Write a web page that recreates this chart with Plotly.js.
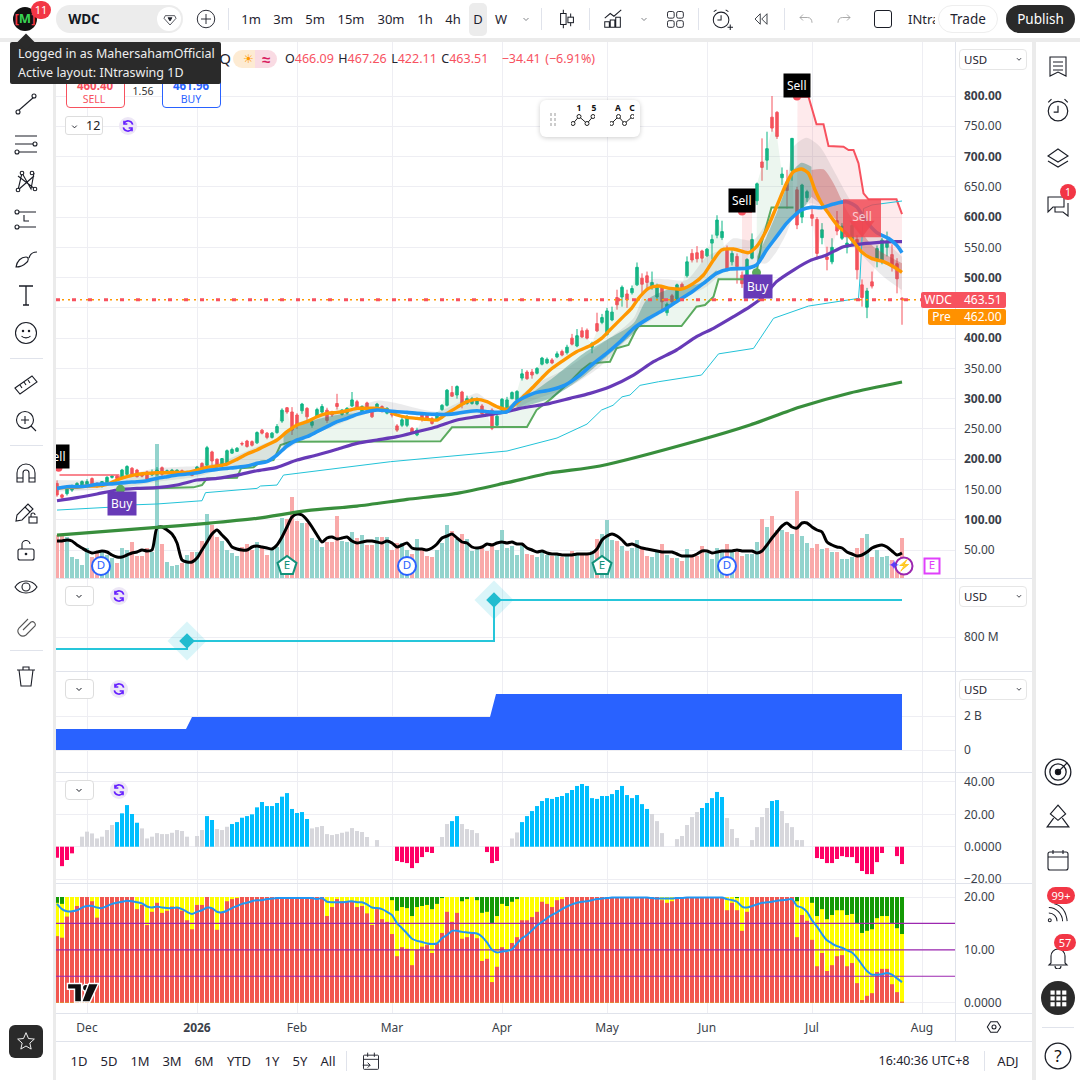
<!DOCTYPE html>
<html><head><meta charset="utf-8">
<script src="https://cdn.plot.ly/plotly-3.0.1.min.js"></script>
<style>
html,body{margin:0;padding:0;background:#fff;width:1080px;height:1080px;overflow:hidden;font-family:'Noto Sans',sans-serif}
#chart{position:absolute;left:0;top:0;width:1080px;height:1080px}
#ui{position:absolute;left:0;top:0;width:1080px;height:1080px;pointer-events:none}
#ui div,#ui svg{position:absolute}
</style></head><body>
<div id="chart"></div><div id="ui"></div>
<script>
// ---------- candles (daily, index 0 = late Nov 2025) ----------
const open=[160,141,143,149,155,157,158,168,160,155,
161,170,172,168,175,185,182,176,179,174,
175,186,178,179,179,181,176,176,177,193,
190,212,200,189,193,210,213,226,230,229,
227,248,243,236,244,263,285,278,273,280,
284,256,270,278,281,278,292,274,276,288,
295,278,293,282,281,287,276,275,255,256,
256,251,240,273,273,267,266,282,289,310,
306,311,292,292,291,288,276,281,256,281,
281,300,298,334,344,344,342,357,359,364,
369,378,376,400,387,412,413,385,424,426,
406,430,467,468,473,475,488,499,503,484,
468,485,442,470,460,489,503,540,541,544,
536,557,570,566,546,526,535,504,499,532,
627,691,694,765,773,665,658,677,645,600,
632,604,596,566,534,526,594,565,550,562,
563,488,451,493,529,526,550,538,523,466.09];
const high=[165,143,157,158,162,165,167,170,162,164,
172,173,174,184,190,187,184,178,181,183,
187,188,183,184,183,183,181,178,189,195,
222,214,201,202,216,219,220,229,232,231,
246,250,245,245,258,284,286,286,276,293,
286,265,285,291,285,280,308,283,286,311,
298,289,295,284,293,289,286,277,258,271,
273,253,252,275,276,270,277,291,316,321,
322,313,305,303,302,291,278,284,274,301,
303,312,314,349,347,349,352,369,368,367,
378,381,389,407,415,418,416,394,442,440,
450,452,480,487,480,487,525,507,510,510,
490,487,459,473,490,492,535,547,552,546,
549,571,603,594,553,545,540,510,532,573,
657,730,741,800,775,682,678,730,650,655,
645,615,600,590,551,565,610,590,570,590,
570,497,483,510,553,566,576,555,532,467.26];
const low=[138,133,140,146,153,155,156,155,153,153,
160,168,166,167,173,173,170,170,165,172,
172,170,176,178,177,177,175,172,175,183,
186,190,183,187,191,209,212,222,219,221,
225,241,233,234,242,260,275,240,250,275,
262,252,268,276,260,270,282,272,274,286,
282,276,279,268,279,277,274,269,245,253,
253,243,238,262,265,257,264,280,287,303,
300,284,290,290,289,272,273,248,255,279,
279,299,296,330,331,333,340,355,357,357,
367,370,373,388,385,400,398,375,410,423,
404,428,447,452,450,472,486,470,480,480,
465,445,437,457,458,480,500,525,525,525,
534,530,565,562,510,520,490,483,485,530,
620,660,678,741,729,653,614,660,580,590,
625,585,530,555,512,522,570,562,540,555,
497,452,433,482,517,522,535,510,474,422.11];
const close=[141,137,155,155,160,163,163,157,155,163,
170,172,168,182,188,175,171,172,167,178,
182,175,181,182,182,178,179,173,187,186,
219,197,188,201,214,216,218,225,221,223,
244,243,236,243,254,281,278,248,257,291,
270,262,282,287,264,273,287,281,284,298,
285,287,281,270,291,280,284,273,248,265,
269,245,248,266,268,259,276,289,314,304,
320,292,300,300,298,275,275,251,271,299,
298,310,312,341,333,339,350,367,365,359,
374,372,385,390,404,402,400,391,412,434,
445,443,455,484,463,482,517,489,492,492,
484,460,456,460,488,484,526,529,531,532,
547,563,595,576,513,540,518,490,530,563,
655,682,713,747,733,671,644,730,587,653,
642,598,540,579,530,550,577,585,557,586,
513,467,478,486,548,562,560,518,498,463.51];
// ---------- volume and its average ----------
const volume=[4.3,4.3,4.1,2.1,1.9,1.3,3.0,2.1,2.6,2.6,
2.3,2.0,1.5,3.0,2.8,3.6,2.2,2.2,3.0,2.6,
13.4,3.4,1.6,1.2,1.3,1.5,2.3,2.6,2.6,3.7,
6.4,5.3,4.1,3.7,2.8,2.5,2.2,3.1,3.4,2.8,
3.6,3.0,2.3,3.0,3.1,6.0,5.9,8.1,5.7,5.5,
5.5,4.0,3.8,3.1,3.6,3.6,6.2,3.7,3.6,4.6,
4.0,4.3,3.3,3.3,4.1,4.1,4.1,2.8,3.5,3.5,
2.8,2.4,3.9,3.0,2.2,2.1,2.8,3.5,5.3,4.7,
3.9,4.4,3.9,2.7,2.9,3.1,2.7,3.5,2.8,4.8,
3.0,3.2,2.3,3.3,2.4,2.3,2.1,2.6,2.3,2.2,
2.3,2.1,2.3,2.7,2.5,2.5,2.3,2.7,3.9,4.4,
5.8,3.8,3.7,3.2,2.7,3.0,3.8,3.0,2.2,2.1,
2.6,3.4,2.3,2.0,2.0,1.7,2.9,2.1,2.2,3.2,
2.5,1.9,3.0,2.8,3.4,2.6,2.6,2.2,2.4,2.4,
3.6,5.9,5.1,6.2,4.8,4.8,4.6,4.4,8.7,4.2,
3.5,3.0,3.4,2.9,3.0,2.6,2.6,1.9,1.9,2.1,
3.0,4.0,4.4,2.1,2.8,2.1,2.2,1.8,1.5,4.0];
const volumeAvg=[3.7,3.7,3.8,3.7,3.3,3.0,2.7,2.5,2.6,2.7,
2.6,2.3,2.1,2.1,2.3,2.5,2.6,2.8,2.7,2.8,
5.0,5.1,4.8,4.4,3.5,1.8,1.6,1.6,2.0,2.8,
3.6,4.4,4.8,4.3,3.8,3.1,2.9,2.8,2.8,3.1,
3.2,3.1,3.0,2.9,3.3,4.1,5.1,6.1,6.4,6.3,
5.8,5.1,4.3,3.6,4.0,4.1,3.9,4.0,4.1,3.7,
3.5,3.6,3.7,3.7,3.6,3.5,3.7,3.5,3.1,3.3,
3.5,3.0,2.9,2.9,2.8,3.0,3.4,4.0,4.2,4.4,
4.0,3.6,3.5,3.1,3.0,3.1,3.4,3.3,3.5,3.6,
3.5,3.6,3.4,3.4,3.0,2.8,2.6,2.7,2.5,2.4,
2.4,2.3,2.3,2.3,2.4,2.4,2.4,2.5,2.9,3.8,
4.2,4.4,4.2,3.8,3.3,3.4,3.2,3.0,2.9,2.8,
2.7,2.6,2.6,2.6,2.4,2.2,2.2,2.2,2.4,2.7,
2.7,2.5,2.6,2.7,2.7,2.7,2.8,2.7,2.7,2.7,
2.5,2.7,3.3,4.0,4.6,5.2,5.5,5.1,5.0,5.5,
5.5,5.1,4.8,4.6,3.6,3.3,3.1,3.0,2.6,2.4,
2.2,2.3,2.6,3.0,3.2,3.3,3.1,2.7,2.3,2.5];
// ---------- moving averages (index, price) ----------
const orangeX=[0,2,4,6,8,10,12,14,16,18,20,22,24,26,28,30,32,34,36,38,40,42,44,46,48,50,52,54,56,58,60,62,64,66,68,70,72,74,76,78,80,82,84,86,88,90,91.9,93.6,95.3,96.9,98.6,100.9,103.9,106.9,108.9,110.9,112.9,114.9,116.3,118.3,120.3,122.6,124.9,127.3,129.3,131.3,132.9,135.3,138.3,139.9,141.9,143.9,145.9,147.3,148.9,150.3,151.6,152.9,154.3,156.3,157.9,159.3,160.9,162.9,165.3,167.3,169];
const orangeY=[151.8,153.5,153.5,155.7,155.7,158.4,165.6,171.1,175,176.6,177.7,177.7,178.2,178.2,182.1,186.5,188.7,192,199.7,208.5,215.2,223.4,231.7,245.4,256.5,262,270.2,275.7,277.4,280.1,284,284,284,281.2,273,269.1,267.5,265.8,264.7,275.7,285.6,295,298.9,295,286.7,282.3,292.2,306,319.8,333.5,347.3,361.1,377.6,388.6,399.6,416.2,432.7,449.2,465.7,482.2,486.1,482.2,481.1,490.5,504.3,529,545.6,547.2,541.2,551.1,578.6,617.2,655.7,675,679.4,672.2,644.7,622.7,606.1,584.1,573.1,559.3,542.8,531.8,526.3,518,508.7];
const blueX=[0,2,4,6,8,10,12,14,16,18,20,22,24,26,28,30,32,34,36,38,40,42,44,46,48,50,52,54,56,58,60,62,64,66,68,70,72,74,76,78,80,82,84,86,88,90,91.9,95.3,98.6,101.6,104.6,107.3,109.9,112.6,115.3,118.3,121.3,123.9,126.6,129.3,131.9,134.6,137.9,139.9,141.9,143.9,145.9,147.6,148.9,150.9,152.9,155.3,157.9,159.9,161.9,163.9,166.3,167.9,169];
const blueY=[151.8,154.6,154.6,155.7,158.4,159,160.1,161.7,162.8,164.5,168.3,171.1,173.8,175.5,177.7,181,183.2,184.9,186.5,188.7,193.1,195.9,206.9,221.8,231.7,237.2,245.4,253.7,262,267.5,274,278.5,281.2,280.1,278.5,277.4,275.7,274.6,274,274,275.7,278.5,280.1,278.5,277.4,278.5,295,308.8,314.3,322.5,339,358.3,374.8,394.1,416.2,432.7,446.4,460.2,474,490.5,507,514.2,515.3,520.8,545.6,567.6,589.6,603.4,611.7,616.1,615.5,621.6,625.4,617.2,592.4,574.8,564.8,553.8,541.2];
const purpleX=[0,4,8,12,16,20,24,28,32,36,40,44,48,52,56,60,64,68,72,76,80,84,88,90,92.6,98.6,102.6,106.6,110.6,115.3,119.3,123.9,127.9,131.3,135.3,138.6,141.3,143.9,147.3,150.6,153.9,157.3,160.3,163.9,167.3,169];
const purpleY=[131.4,136.4,142.5,149.1,151.8,152.9,157.3,165.6,168.3,173.8,181,186.5,198.6,206.9,216.3,226.2,231.7,237.2,245.4,253.7,264.7,270.2,275.7,278.5,284,292.2,300.5,308.8,319.8,339,361.1,380.4,402.4,416.2,435.4,452,468.5,493.3,512.5,528,537.3,551.1,555,557.7,559.3,559.3];
const smaX=[0,20,30,40,50,60,70,80,90,98.6,108.6,128.6,138.6,148.6,158.6,169];
const smaY=[74.7,87.4,94,102.3,115,122.6,133.6,143.6,161.2,177.2,188.8,231.7,256.5,286.2,309.4,327.5];
const thinX=[0,10,16,20,29,29.7,40,40.7,44,45.3,66.7,90,100,106,108.9,111.2,113,114.6,116.6,120.3,128.9,132.3,139.3,143.3,150.3,160.3,160.6,161.3,163,169];
const thinY=[116,120.4,124.8,126,131.4,144.7,151.8,155.7,157.3,173.8,195.9,213.5,235,258,281.2,289,303,306,322,328,339,374,383,432.7,453,465.7,498.7,614,620,626.5];
// ---------- trend stops ----------
const stopUpX=[12.7,27.3,29,30,36,36.8,39.3,40.7,43.3,44.7,46.7,76.7,79,90,94,95.9,98.9,102.6,104.9,106.6,110.6,111.9,114.3,115.6,116.3,124.9,127.9,129.6,131.3,132.3,137.6];
const stopUpY=[150.2,153.5,157.3,168.3,169.4,184.9,186.5,195.9,198.6,223.4,228.9,229.5,252.6,253.2,253.2,281.2,300.5,328,347.3,358.3,361.1,383.1,388.6,410.6,420,420,452,454.7,468.5,497.1,497.1];
const stopUp2X=[139.9,140.9,142.9,147.3];
const stopUp2Y=[508,556.6,616,616];
const stopDownX=[148.1,150.3,151.9,153.3,154.3,157.3,158.3,159.3,160.3,161.3,162.3,167.9,169];
const stopDownY=[798.9,798.9,753.2,753.2,717.4,716.3,710.8,710.8,688.7,639.2,629.3,629.3,605];
const stopDown2X=[137,139];
const stopDown2Y=[609,609];
const stopDown3X=[0.5,12.3,12.6];
const stopDown3Y=[173.8,173.8,166.7];
// ---------- ribbon bands ----------
const grayX=[0,12,14,20,28,32,40,44,48,52,56,60,64,68,72,76,80,84,88.6,95.3,101.9,108.6,115.3,118.6,121.9,125.9,129.9,132.6,135.3,139.3,143.3,145.9,147.3,149.9,152.6,155.3,158.6,161.9,169];
const grayTop=[165.6,166.7,173.8,184.9,188.7,193.1,220.7,234.4,259.2,269.1,278.5,286.7,296.7,292.3,284,278.5,292.3,308.8,281.2,322.5,350,388.6,432.7,496,497.1,496,534.6,545.6,564.8,562.1,611.6,655.7,716.3,731.2,716.3,677.7,628.2,589.6,534.6];
const grayLowX=[0,12,20,28,32,40,44,48,52,56,60,64,68,72,76,80,84,88.6,95.3,101.9,108.6,115.3,117.9,121.9,125.9,129.9,133.9,137.9,139.9,141.9,143.9,145.9,147.3,150.6,152.6,155.3,158.6,161.9,165.3,169];
const grayLow=[146.3,151.8,162.8,171.1,181,194.2,206.9,226.2,242.7,256.5,270.2,278.5,275.7,273,271.3,273,275.7,273,297.7,317,352.8,407.9,424.4,446.4,468.5,485,512.5,515.3,523.5,523.5,542.8,573.1,600.6,622.7,617.2,595.1,562.1,529,501.5,479.5];
const teal1X=[45.3,48,52,56,60];
const teal1Top=[239.9,253.7,265.8,273,275.7];
const teal1Low=[217.9,230,242.7,259.2,271.9];
const teal2X=[91.9,98.6,105.3,109.9,115.3,117.9,121.9,125.3,128.6,131.9];
const teal2Top=[292.2,330.8,374.8,396.9,424.4,462.9,479.5,485,490.5,512.5];
const teal2Low=[284,300.5,336.3,369.3,407.9,429.9,449.2,467,485,504.3];
const teal3X=[140,141.9,143.9,145.9,147.3,148.9,150.9];
const teal3Top=[534.6,567.6,606.1,650.2,677.7,689.8,683.2];
const teal3Low=[518,545.6,567.6,589.6,603.4,611.7,633.7];
const rose1X=[150.9,153.3,155.3,157.9,160.6,163.3,169];
const rose1Top=[677.7,678.8,655.7,611.6,578.6,551.1,523.5];
const rose1Low=[633.7,617.2,600.6,573.1,548.3,531.8,509.8];
// ---------- lower panes ----------
const floatStepX=[-0.2,26,26,87.4,87.4,169];
const floatStepY=[680,680,760,760,1170,1170];
const floatMarkX=[26,87.4];
const floatMarkY=[760,1170];
const revenueX=[-0.2,25.8,27,86.6,87.8,169];
const revenueY=[1.235,1.235,1.94,1.94,3.29,3.29];
const hist=[-6.8,-12,-8.2,-4.1,0,6.2,9.3,8.2,5.1,6.2,
10.3,13.4,15.2,20.6,25.7,20.2,14.8,11.3,5.1,6.2,
8.4,7.8,7.8,8.6,10.3,9.7,6.2,0,6.6,10.3,
18.9,16.5,10.9,10.3,12.3,14,15.2,17.9,18.9,20,
24.3,27.6,25.1,25.1,27,30.9,33.1,23.3,20.8,21.4,
17.1,11.3,12.1,12.8,7.8,7.2,7.8,8.6,9.3,11.5,
9.7,9.1,6,0,4.1,0,0,0,-8.8,-9.5,
-10.1,-13.2,-10.1,-6.4,-3.3,-3.9,0,6,14,15.8,
18.9,14,10.9,10.3,8.4,0,-3.3,-10.1,-8.8,0,
0,5.1,8.8,15.2,18.9,22,25.1,28.2,30,29.5,
30.7,31.3,33.1,35,37.5,38.7,37.5,30,29.5,31.3,
31.3,32.5,35,37.5,31.9,30,31.9,26.3,23.3,20.2,
15.8,8.4,0,0,4.7,6.6,13.4,18.3,21.4,23.9,
27,30,33.8,30.7,17.7,10.9,5.4,0,0,4.1,
12.1,18.3,23.9,28.2,28.8,22,14.6,12.1,4.1,4.1,
0,0,-7,-7.6,-10.1,-10.1,-7.6,-5.8,-6.4,-6.4,
-10.1,-15,-16.9,-16.9,-9.5,-3.9,0,0,-5.8,-10.7];
// colour state of each histogram run: p = bearish, g = neutral, c = strong bullish
const histStates=['p','g','c','g','c','g','c','g','p','g','c','g','p','g','c','g','c','g','c','g','p','g','p'];
const histRunLen=[4,8,5,13,2,3,16,17,8,3,2,5,3,4,26,10,5,9,2,7,14,2,2];
const redPart=[12.6,12.3,16.3,17.2,18.3,20,20,19.2,16.1,20,
20,20,20,20,20,20,17.7,18.5,14.7,17.2,
18.9,17,17.4,18.2,18.1,17.4,15.6,13.9,18.5,18.5,
20,17.9,13.8,17,19.2,19.6,19.8,20,20,20,
20,20,20,20,20,20,20,20,20,20,
20,20,20,20,16.4,18.1,19.6,19.2,19.2,19.2,
18.1,18.3,16.9,14.7,17.7,15.8,15.3,13,8.8,10.5,
10.2,7.1,10,10.6,10.9,9.4,11.2,13.2,17.2,15.3,
17,12.1,12.4,13,12.2,7.9,8.3,3.9,6.8,10.5,
9.6,11.3,12.4,15.6,15.6,16.2,17.2,19.1,18.7,18.1,
19.4,19.6,20,20,20,20,20,20,20,20,
20,20,20,20,20,20,20,20,20,20,
20,19.4,18.9,19.2,20,20,20,20,20,20,
20,20,20,20,17.5,18.9,17.5,13.6,17.2,20,
20,20,20,20,20,20,20,20,12.4,16.6,
15.5,11.9,6.9,9.4,6,7.1,8.8,9,6.9,7.5,
3.7,0.5,1.3,1.8,5.8,6.4,6.4,3.5,2,0.2];
const yellowTop=[18.9,18.7,20,20,20,20,20,20,20,20,
20,20,20,20,20,20,20,20,20,20,
20,20,20,20,20,20,20,20,20,20,
20,20,20,20,20,20,20,20,20,20,
20,20,20,20,20,20,20,20,20,20,
20,20,20,20,20,20,20,20,20,20,
20,20,20,20,20,20,20,19.4,17.4,18.1,
17.9,16.4,18.1,18.3,18.5,17.7,18.7,19.8,20,20,
20,19.2,19.6,20,19.4,17,17.2,15,16.4,18.7,
18.3,19.1,19.6,20,20,20,20,20,20,20,
20,20,20,20,20,20,20,20,20,20,
20,20,20,20,20,20,20,20,20,20,
20,20,20,20,20,20,20,20,20,20,
20,20,20,20,20,20,19.8,20,20,20,
20,20,20,20,20,20,20,20,19.2,20,
20,18.9,16.4,17.7,15.8,16.6,17.5,17.5,16.6,16.8,
14.9,13.2,13.6,13.9,16,16.4,16.4,14.9,14.1,13];
const greenCeil=20;
const sumAvg=[18.7,17.7,17.3,17.3,17.5,18,18.3,18.3,18,17.9,
18.3,18.7,18.9,19.1,19.3,19.2,19,18.8,18.2,18,
18.2,18,17.9,17.9,18,17.7,17.2,16.8,17.2,17.5,
18,17.9,17.2,17.1,17.4,17.9,18.3,18.7,18.9,19.2,
19.4,19.4,19.6,19.7,19.8,19.8,19.8,19.8,19.8,19.8,
19.8,19.8,19.6,19.8,19.1,19,19,19,19.1,19.2,
19,19,18.6,18,17.9,17.7,17.2,16.6,15,14.1,
13.1,12.1,11.7,11.5,11.2,11.1,11.2,12.2,12.8,13.6,
13.6,13.4,13.3,13.2,13.1,12.5,11.4,10,9.5,9.7,
9.8,10.1,11.2,12.2,12.8,13.7,14.6,15.3,16,16.6,
17.1,17.7,18.2,18.6,18.9,19.1,19.2,19.4,19.6,19.7,
19.8,19.9,19.9,19.9,19.9,19.9,19.9,19.9,19.9,19.8,
19.7,19.7,19.7,19.7,19.8,19.8,19.9,19.9,19.9,19.9,
19.9,19.9,19.9,19.9,19.6,19.4,19.1,18.2,18,18.3,
18.6,18.9,19,19.1,19.3,19.4,19.5,19.6,18.3,18,
17.2,15.6,14.4,13,11.8,11.2,10.7,10.4,9.9,9.5,
8.5,7.2,6,5.3,5.3,5.4,5.6,5.3,4.6,3.9];
const purpleLevels=[15,10,5];
// ---------- axes ----------
const monthIdx=[6,28,48,67,89,110,130,151,173];
const monthLbl=['Dec','<b>2026</b>','Feb','Mar','Apr','May','Jun','Jul','Aug'];
const priceTicks=[800,750,700,650,600,550,500,450,400,350,300,250,200,150,100,50];
const priceLbl=['<b>800.00</b>','750.00','<b>700.00</b>','650.00','<b>600.00</b>','550.00','<b>500.00</b>','','<b>400.00</b>','350.00','<b>300.00</b>','250.00','<b>200.00</b>','150.00','<b>100.00</b>','50.00'];
const lastClose=463.51, preMkt=462;

const idx=close.map((_,i)=>i);
const UP='#0AB585',DN='#F4525C',GRID='#eeeef3';
const col=(u,d)=>close.map((c,i)=>c>=open[i]?u:d);
const F="'Noto Sans',sans-serif";
const line=(x,y,color,width,yaxis,extra)=>Object.assign({type:'scatter',mode:'lines',x,y,yaxis:yaxis||'y2',line:{color,width,shape:'linear'},hoverinfo:'skip'},extra||{});
const smooth=(x,y,color,width,yaxis)=>line(x,y,color,width,yaxis,{line:{color,width,shape:'spline',smoothing:0.7}});
const clear=(x,y,extra)=>line(x,y,'rgba(0,0,0,0)',0,'y2',Object.assign({line:{color:'rgba(0,0,0,0)',width:0,shape:'spline',smoothing:0.7}},extra||{}));
const band=(x1,y1,x2,y2,fill)=>[clear(x1,y1),clear(x2,y2,{fill:'tonexty',fillcolor:fill})];
const slice=(a,s,e)=>a.slice(s,e+1);

const traces=[
  {type:'bar',x:idx,y:volume,yaxis:'y',width:0.8,marker:{color:col('#93d3cd','#f9a9a9'),line:{width:0}},hoverinfo:'skip'},
  smooth(idx,volumeAvg,'#000',3,'y'),
];
// trend fills
traces.push(line(stopDown3X,stopDown3Y,'rgba(247,82,95,.7)',2));
traces.push(line(stopUpX,stopUpY,'#5aaa5e',2));
traces.push(line(slice(idx,13,137),slice(close,13,137),'rgba(0,0,0,0)',0,'y2',{fill:'tonexty',fillcolor:'rgba(120,190,140,.14)'}));
traces.push(line(stopUp2X,stopUp2Y,'#5aaa5e',2));
traces.push(line(slice(idx,140,147),slice(close,140,147),'rgba(0,0,0,0)',0,'y2',{fill:'tonexty',fillcolor:'rgba(120,190,140,.14)'}));
traces.push(line(stopDown2X,stopDown2Y,'#f7525f',2));
traces.push(line(slice(idx,137,139),slice(close,137,139),'rgba(0,0,0,0)',0,'y2',{fill:'tonexty',fillcolor:'rgba(247,82,95,.14)'}));
traces.push(line(stopDownX,stopDownY,'#f7525f',2));
traces.push(line(slice(idx,148,169),slice(close,148,169),'rgba(0,0,0,0)',0,'y2',{fill:'tonexty',fillcolor:'rgba(247,82,95,.12)'}));
// ribbons
traces.push(...band(grayX,grayTop,grayLowX,grayLow,'rgba(110,110,120,.14)'));
traces.push(...band(teal1X,teal1Top,teal1X,teal1Low,'rgba(40,130,115,.38)'));
traces.push(...band(teal2X,teal2Top,teal2X,teal2Low,'rgba(40,130,115,.38)'));
traces.push(...band(teal3X,teal3Top,teal3X,teal3Low,'rgba(40,130,115,.38)'));
traces.push(...band(rose1X,rose1Top,rose1X,rose1Low,'rgba(190,60,60,.34)'));
// long MAs
traces.push(smooth(smaX,smaY,'#388e3c',3.2));
traces.push(line(thinX,thinY,'#22c3d8',1));
// candles
traces.push({type:'candlestick',x:idx,open,high,low,close,yaxis:'y2',whiskerwidth:0,
  increasing:{line:{color:UP,width:1},fillcolor:UP},decreasing:{line:{color:DN,width:1},fillcolor:DN},hoverinfo:'skip'});
traces.push(smooth(purpleX,purpleY,'#673ab7',3.2));
traces.push(smooth(orangeX,orangeY,'#ff9800',3.4));
traces.push(smooth(blueX,blueY,'#2196f3',3.6));
// last price lines
const fullX=[-0.2,179.6];
traces.push(line(fullX,[lastClose,lastClose],'#ff9800',1.6,'y2',{line:{color:'#ff9800',width:1.6,dash:'2px,4px'}}));
traces.push(line(fullX,[lastClose,lastClose],'#f7525f',3,'y2',{line:{color:'#f7525f',width:3,dash:'4px,12px'}}));
// signal dots
traces.push({type:'scatter',mode:'markers',x:[148,137,0.3],y:[799,609,186],yaxis:'y2',marker:{color:'#f7525f',size:8},hoverinfo:'skip'});
traces.push({type:'scatter',mode:'markers',x:[12.7,139.9],y:[150.2,508],yaxis:'y2',marker:{color:'#5aaa5e',size:9},hoverinfo:'skip'});
// translucent Sell badge
traces.push({type:'scatter',mode:'markers',x:[161],y:[585],yaxis:'y2',marker:{symbol:'triangle-down',color:'rgba(240,70,80,.82)',size:22},hoverinfo:'skip'});
traces.push({type:'scatter',mode:'markers+text',x:[161],y:[598],yaxis:'y2',text:['Sell'],textfont:{color:'rgba(255,255,255,.7)',size:12,family:F},textposition:'middle center',marker:{symbol:'square',color:'rgba(240,70,80,.82)',size:38},hoverinfo:'skip'});
// event badges on volume axis
const evt=(x,sym,txt,border,size,tcol,fill)=>({type:'scatter',mode:'markers+text',x,y:x.map(()=>1.2),yaxis:'y',text:x.map(()=>txt),textposition:'middle center',textfont:{color:tcol||border,size:11.5,family:F},marker:{symbol:sym,size:size,color:fill||'#fff',line:{color:border,width:2}},hoverinfo:'skip'});
traces.push(evt([8.8,70,134],'circle','D','#2962ff',18));
traces.push(evt([46,109],'pentagon','E','#12917a',20));
traces.push(evt([175],'square','E','#e040fb',15));
traces.push(evt([169.4],'circle','⚡','#9c27b0',17));
traces.push({type:'scatter',mode:'text',x:[167.4],y:[1.2],yaxis:'y',text:['✦'],textfont:{color:'#5b3ff5',size:14},hoverinfo:'skip'});
// pane 2
traces.push(line(floatStepX,floatStepY,'#26c6da',2,'y3'));
traces.push({type:'scatter',mode:'markers',x:floatMarkX,y:floatMarkY,yaxis:'y3',marker:{symbol:'diamond',size:30,color:'rgba(38,198,218,.17)'},hoverinfo:'skip'});
traces.push({type:'scatter',mode:'markers',x:floatMarkX,y:floatMarkY,yaxis:'y3',marker:{symbol:'diamond',size:12,color:'#22bccf'},hoverinfo:'skip'});
// pane 3
traces.push(line(revenueX,revenueY,'#2962ff',0,'y4',{fill:'tozeroy',fillcolor:'#2962ff'}));
// pane 4
const hc={p:'#ff0066',g:'#d7d7dc',c:'#00bfff'};
const histColor=[];histStates.forEach((s,k)=>{for(let n=0;n<histRunLen[k];n++)histColor.push(hc[s]);});
traces.push({type:'bar',x:idx,y:hist,yaxis:'y5',width:0.8,marker:{color:histColor,line:{width:0}},hoverinfo:'skip'});
// pane 5
const lvlX=[-0.2,179.6];
traces.push({type:'bar',x:idx,y:idx.map(()=>greenCeil),yaxis:'y6',width:0.8,marker:{color:'#149a05',line:{width:0}},hoverinfo:'skip'});
traces.push({type:'bar',x:idx,y:yellowTop,yaxis:'y6',width:0.8,marker:{color:'#ffff00',line:{width:0}},hoverinfo:'skip'});
traces.push({type:'bar',x:idx,y:redPart,yaxis:'y6',width:0.8,marker:{color:'#f2564f',line:{width:0}},hoverinfo:'skip'});
purpleLevels.forEach(v=>traces.push(line(lvlX,[v,v],'#9c27b0',1.2,'y6')));
traces.push(smooth(idx,sumAvg,'#2196f3',2,'y6'));

const dom=(top,bot)=>[1-bot/1080,1-top/1080];
const axis=(top,bot,lo,hi,vals,txt,extra)=>Object.assign({domain:dom(top,bot),range:[lo,hi],side:'right',anchor:'x',tickvals:vals,ticktext:txt,ticks:'',showline:false,zeroline:false,showgrid:true,gridcolor:GRID,gridwidth:1,tickfont:{family:F,size:12,color:'#3b3f4a'},ticklabelstandoff:8,fixedrange:true},extra||{});
const priceLo=800-(578-96)/0.60533, priceHi=800+(96-42)/0.60533;
const ann=(x,y,text,bg)=>({x,y,xref:'x',yref:'y2',text,showarrow:false,bgcolor:bg,borderpad:3,font:{family:F,size:12,color:'#fff'}});
const layout={width:1080,height:1080,autosize:false,margin:{l:0,r:0,t:0,b:0},paper_bgcolor:'#fff',plot_bgcolor:'#fff',showlegend:false,barmode:'overlay',
  xaxis:{domain:[56/1080,955/1080],range:[-0.2,179.6],anchor:'y6',tickvals:monthIdx,ticktext:monthLbl,ticks:'',showgrid:true,gridcolor:GRID,gridwidth:1,zeroline:false,showline:false,tickfont:{family:F,size:12,color:'#3b3f4a'},ticklabelstandoff:6,rangeslider:{visible:false},fixedrange:true},
  yaxis:axis(42,578,0,53.6,[],[],{showgrid:false,showticklabels:false}),
  yaxis2:axis(42,578,priceLo,priceHi,priceTicks,priceLbl,{overlaying:'y'}),
  yaxis3:axis(579,671,460,1380,[800],['800 M']),
  yaxis4:axis(672,772,-1.294,4.588,[2,0],['2 B','0']),
  yaxis5:axis(773,883,-22.4,45.5,[40,20,0,-20],['40.00','20.00','0.0000','\u221220.00']),
  yaxis6:axis(884,1013,-1.95,22.46,[20,10,0],['20.00','10.00','0.0000']),
  annotations:[
    ann(148,818,'Sell','#000'),ann(137,628,'Sell','#000'),
    ann(13,127.6,'Buy','#673ab7'),ann(140.2,486,'Buy','#673ab7'),
    {xref:'paper',x:42/1080,yref:'y2',y:204,text:'Sell',showarrow:false,bgcolor:'#000',borderpad:3,font:{family:F,size:12,color:'#fff'}}
  ]};
Plotly.newPlot('chart',traces,layout,{staticPlot:true,displayModeBar:false});

// ---------- application chrome ----------
const ui=document.getElementById('ui');
function box(x,y,w,h,css,html){const d=document.createElement('div');d.style.cssText=`left:${x}px;top:${y}px;width:${w}px;height:${h}px;${css||''}`;if(html!=null)d.innerHTML=html;ui.appendChild(d);return d;}
function txt(cx,cy,s,size,color,weight){const d=document.createElement('div');d.style.cssText=`left:${cx-100}px;top:${cy-12}px;width:200px;height:24px;line-height:24px;text-align:center;font-size:${size||13}px;color:${color||'#1f2430'};font-weight:${weight||400};white-space:nowrap`;d.textContent=s;ui.appendChild(d);return d;}
function icon(cx,cy,inner,w,h,extra){w=w||24;h=h||24;const s=document.createElementNS('http://www.w3.org/2000/svg','svg');s.setAttribute('viewBox','0 0 24 24');s.setAttribute('width',w);s.setAttribute('height',h);s.style.left=(cx-w/2)+'px';s.style.top=(cy-h/2)+'px';s.innerHTML=`<g fill="${(extra&&extra.fill)||'none'}" stroke="${(extra&&extra.stroke)||'#1a1d26'}" stroke-width="${(extra&&extra.sw)||1.1}">${inner}</g>`;ui.appendChild(s);return s;}
const BAND='#ebebeb',DIV='#e0e3eb';
// frames
box(0,0,1080,38,'background:#fff');box(0,38,1080,4,'background:'+BAND);
box(0,42,53,1038,'background:#fff');box(53,42,3,1038,'background:'+BAND);
box(1032,42,4,1038,'background:'+BAND);box(1036,42,44,1038,'background:#fff');
box(56,1042,976,38,'background:#fff');box(56,1041,976,1,'background:'+DIV);
box(56,1013,976,1,'background:'+DIV);
[578,671,772,883].forEach(y=>box(56,y,976,1,'background:'+DIV));
box(955,42,1,1000,'background:'+DIV);
// logo + symbol
box(13,7,24,24,'background:#111;border-radius:50%');
box(13,7,24,24,'text-align:center;line-height:23px;font-size:13px;font-weight:700;color:#39d353;white-space:nowrap','<span style="color:#f23645">[</span>M<span style="color:#f23645">]</span>');
box(31,1,20,18,'background:#f23645;border-radius:10px;color:#fff;font-size:11px;text-align:center;line-height:18px','11');
box(56,5,127,28,'background:#ececec;border-radius:14px');
txt(84,19,'WDC',13.5,'#131722',700);
box(157,7,24,24,'background:#fff;border-radius:50%');
icon(170,19,'<path d="M5 7h14l2 4-9 10L3 11z"/><path d="M9 10h6l-3 5z" fill="#1a1d26"/>',16,16);
icon(206,19,'<circle cx="12" cy="12" r="10.5"/><path d="M12 6v12M6 12h12"/>',20,20);
box(228,8,1,22,'background:'+DIV);
box(469,3,18,33,'background:#ececec;border-radius:5px');
[['1m',251],['3m',283],['5m',315],['15m',351],['30m',391],['1h',425],['4h',453],['D',478],['W',501]].forEach(a=>txt(a[1],19,a[0],13,'#1f2430'));
icon(526,19,'<path d="M7 10l5 5 5-5"/>',12,12);box(541,8,1,22,'background:'+DIV);
icon(567,19,'<path d="M8 2v4M8 18v4M16 6v4M16 16v4"/><rect x="5" y="6" width="6" height="12"/><rect x="13" y="10" width="6" height="6"/>',22,22);box(589,8,1,22,'background:'+DIV);
icon(613,19,'<path d="M3 11l6-5 4 3 8-7M3 21v-6h5v6zM9 21v-8h5v8zM15 21V10h5v11z"/>',22,22);
icon(644,19,'<path d="M7 10l5 5 5-5"/>',12,12);
icon(675,19,'<rect x="3" y="3" width="8" height="8" rx="2"/><rect x="14" y="3" width="8" height="8" rx="2"/><rect x="3" y="14" width="8" height="8" rx="2"/><rect x="14" y="14" width="8" height="8" rx="2"/>',20,20);box(698,8,1,22,'background:'+DIV);
icon(722,19,'<circle cx="11" cy="13" r="8.5"/><path d="M11 8v5H7M3 4l3-2M19 4l-3-2M18 21h6M21 18v6"/>',22,22);
icon(761,19,'<path d="M11 5l-7 7 7 7zM20 5l-7 7 7 7z"/>',18,18);box(784,8,1,22,'background:'+DIV);
icon(806,19,'<path d="M8 6L4 10l4 4M4 10h10c4 0 6 3 6 7"/>',18,18,{stroke:'#999'});
icon(844,19,'<path d="M16 6l4 4-4 4M20 10H10c-4 0-6 3-6 7"/>',18,18,{stroke:'#999'});
box(874,10,18,18,'border:1px solid #1a1d26;border-radius:3px;box-sizing:border-box');
box(908,5,27,28,'overflow:hidden;font-size:13px;line-height:28px;color:#1f2430','INtra');
box(938,5,60,28,'border:1px solid #eee;border-radius:14px;box-sizing:border-box;background:#fff;text-align:center;line-height:26px;font-size:13.5px;color:#1f2430','Trade');
box(1006,5,69,28,'background:#2a2a2a;border-radius:14px;text-align:center;line-height:28px;font-size:13.5px;color:#fff','Publish');
// legend row
txt(225,58,'Q',15,'#1f2430');
box(233,50,44,18,'background:linear-gradient(90deg,#fdebd3 0 50%,#f9dbe3 50% 100%);border-radius:9px');
txt(248,59,'☀',12,'#ff9800');txt(266,59,'≈',15,'#d81b60',700);
box(285,48,320,22,'font-size:12.5px;line-height:22px;color:#f7525f;white-space:nowrap;word-spacing:1.2px','<span style="color:#1f2430">O</span>466.09 <span style="color:#1f2430">H</span>467.26 <span style="color:#1f2430">L</span>422.11 <span style="color:#1f2430">C</span>463.51 &nbsp;&nbsp;−34.41 (−6.91%)');
// SELL/BUY box
box(66,70,59,38,'border:1px solid #f7525f;border-radius:4px;box-sizing:border-box;background:#fff');
box(162,70,59,38,'border:1px solid #2962ff;border-radius:4px;box-sizing:border-box;background:#fff');
txt(95,86,'460.40',11.5,'#f7525f',700);txt(191,86,'461.96',11.5,'#2962ff',700);
txt(94,98.5,'SELL',10.5,'#f7525f');txt(191,98.5,'BUY',10.5,'#2962ff');txt(143,91,'1.56',10.5,'#333');
// tooltip
box(10,42,211,42,'background:#2a2a2a;border-radius:2px');
box(20,36,12,12,'background:#2a2a2a;transform:rotate(45deg)');
box(18,44,200,19,'color:#eee;font-size:12.5px;line-height:19px;white-space:nowrap','Logged in as MahersahamOfficial');
box(18,63,200,19,'color:#eee;font-size:12.5px;line-height:19px;white-space:nowrap','Active layout: INtraswing 1D');
// pane controls
box(65,116,38,19,'border:1px solid #ddd;border-radius:3px;box-sizing:border-box;background:#fff;font-size:12.5px;line-height:17px;padding-left:20px;color:#222','12');
icon(74,126,'<path d="M7 10l5 5 5-5"/>',11,11,{sw:2});
const sync=(cx,cy)=>{box(cx-9,cy-9,18,18,'background:#ede7f6;border-radius:50%');icon(cx,cy,'<path d="M19 10a7 7 0 0 0-13-2M5 14a7 7 0 0 0 13 2"/><path d="M6 4v5h5M18 20v-5h-5"/>',16,16,{stroke:'#651fff',sw:2.4});};
sync(128,126);
[[596,119],[689,119],[790,119]].forEach(a=>{box(65,a[0]-10,29,20,'border:1px solid #ddd;border-radius:4px;box-sizing:border-box;background:#fff');icon(79,a[0],'<path d="M7 10l5 5 5-5"/>',12,12,{sw:2});sync(a[1],a[0]);});
// USD selectors
[[49,58],[586,595],[679,688]].forEach(a=>{box(959,a[0],68,21,'border:1px solid #e6e6e6;border-radius:4px;box-sizing:border-box;background:#fff;font-size:11.5px;line-height:19px;padding-left:4px;color:#1f2430','USD');icon(1019,a[1]+1,'<path d="M7 10l5 5 5-5"/>',10,10,{sw:2});});
// wave tool card
box(540,100,100,37,'background:#fff;border-radius:6px;box-shadow:0 1px 5px rgba(0,0,0,.2)');
box(549,112,8,14,'background:radial-gradient(circle,#ccc 1.3px,transparent 1.5px) 0 0/4px 5px');
const dots=(xs)=>xs.map((x,k)=>`<circle cx="${x}" cy="${k%2?8.5:15.5}" r="2" fill="#fff"/>`).join('');
icon(583,119.5,`<path d="M2 15.5L8 8.5L16 15.5L22 8.5"/>${dots([2,8,16,22])}`,24,24,{stroke:'#222',sw:1});
icon(621.5,119.5,`<path d="M1.5 15.5L8.5 8.5L14.5 15.5L22.5 8.5"/>${dots([1.5,8.5,14.5,22.5])}`,24,24,{stroke:'#222',sw:1});
txt(579,108,'1',8.5,'#111',700);txt(594,108,'5',8.5,'#111',700);txt(618,108,'A',8.5,'#111',700);txt(632,108,'C',8.5,'#111',700);
// price tags
box(921,292,34,16,'background:#f7525f;border-radius:2px 0 0 2px;color:#fff;font-size:12px;line-height:16px;text-align:center','WDC');
box(955,292,51,16,'background:#f7525f;border-radius:0 2px 2px 0;color:#fff;font-size:12px;line-height:16px;padding-left:9px;box-sizing:border-box','463.51');
box(928,309,27,16,'background:#ff9100;border-radius:2px 0 0 2px;color:#fff;font-size:12px;line-height:16px;text-align:center','Pre');
box(955,309,51,16,'background:#ff9100;border-radius:0 2px 2px 0;color:#fff;font-size:12px;line-height:16px;padding-left:9px;box-sizing:border-box','462.00');
// watermark
icon(83,992,'<path d="M1 6h10v13H6V10H1z" fill="#111" stroke="#fff"/><circle cx="14" cy="9" r="2.4" fill="#111" stroke="#fff"/><path d="M16 6h7l-6 13h-6z" fill="#111" stroke="#fff"/>',34,34,{sw:1});
// x axis settings
icon(994,1027,'<path d="M7 4h10l5 8-5 8H7l-5-8z"/><circle cx="12" cy="12" r="3"/>',16,16,{sw:1.6});
// bottom row
[['1D',79],['5D',109],['1M',140],['3M',172],['6M',204],['YTD',239],['1Y',272],['5Y',300],['All',328]].forEach(a=>txt(a[1],1061,a[0],13,'#1f2430'));
box(346,1051,1,20,'background:'+DIV);
icon(371,1061,'<rect x="3" y="5" width="18" height="17" rx="1"/><path d="M3 10h18M8 2v5M16 2v5M2 17h9M8 14l3 3-3 3"/>',20,20);
txt(924,1061,'16:40:36 UTC+8',12.5,'#1f2430');box(984,1051,1,20,'background:'+DIV);txt(1008,1061,'ADJ',13,'#1f2430');
box(9,1025,34,33,'background:#2a2a2a;border-radius:6px');
icon(26,1041,'<path d="M12 2l3 7 7 .7-5.4 4.8 1.6 7.2L12 18l-6.2 3.7 1.6-7.2L2 9.7 9 9z"/>',20,20,{stroke:'#fff'});
// left toolbar
const L=26;
icon(L,104,'<path d="M4 19L20 5"/><circle cx="4" cy="20" r="2" fill="#fff"/><circle cx="20" cy="4" r="2" fill="#fff"/>');
icon(L,144,'<path d="M1 4h22M1 12h19M4 20h19"/><circle cx="21" cy="12" r="2" fill="#fff"/><circle cx="3" cy="20" r="2" fill="#fff"/>');
icon(L,181,'<path d="M4 21L8 4l9 16L20 4M4 21L20 7M21 20L4 7"/><circle cx="4" cy="21" r="1.8" fill="#fff"/><circle cx="21" cy="20" r="1.8" fill="#fff"/><circle cx="8" cy="4" r="1.8" fill="#fff"/><circle cx="18" cy="4" r="1.8" fill="#fff"/>');
icon(L,219,'<path d="M4 5h18M4 20h18M10 8v6h5"/><circle cx="3" cy="5" r="2" fill="#fff"/><circle cx="3" cy="20" r="2" fill="#fff"/>');
icon(L,258,'<path d="M2 21c1-6 5-10 10-10 3 0 3 4 0 6-3 3-7 4-10 4zM15 12c1-4 4-6 8-6"/>');
icon(L,295,'<path d="M5 3h14M12 3v19M9 22h6"/>',24,24,{sw:1.3});
icon(L,333,'<circle cx="12" cy="12" r="10.5"/><circle cx="9" cy="10" r=".7" fill="#111"/><circle cx="15" cy="10" r=".7" fill="#111"/><path d="M7.5 15c2 2.5 7 2.5 9 0"/>');
box(10,358,33,1,'background:'+DIV);
icon(L,383,'<path d="M1 17L18 5l5 6L6 23zM6 14l2 3M10 11l2 3M14 9l2 3"/>');
icon(L,421,'<circle cx="11" cy="11" r="8.5"/><path d="M17 17l5 5M7 11h8M11 7v8"/>');
box(10,445,33,1,'background:'+DIV);
icon(L,473,'<path d="M3 21V12a9 9 0 0 1 18 0v9h-6v-9a3 3 0 0 0-6 0v9zM3 17h6M15 17h6"/>');
icon(L,512,'<path d="M2 21l1-6L14 4l5 5L8 20zM11 7l5 5"/><rect x="15" y="17" width="8" height="6"/><path d="M17 17v-2a2 2 0 0 1 4 0"/>');
icon(L,550,'<rect x="4" y="11" width="16" height="11" rx="2"/><path d="M8 11V7a4 4 0 0 1 8-1"/><circle cx="12" cy="16" r=".8" fill="#111"/>');
icon(L,587,'<path d="M1 12c5-8 17-8 22 0-5 8-17 8-22 0z"/><circle cx="12" cy="12" r="4"/>');
icon(L,625,'<path d="M9 17l8-8a3 3 0 0 1 4 4l-9 9a5 5 0 0 1-7-7l9-9"/>',24,24,{stroke:'#555'});
box(10,650,33,1,'background:'+DIV);
icon(L,676,'<path d="M3 6h18M9 6V3h6v3M5 6l2 16h10l2-16"/>');
// right toolbar
const R=1058;
icon(R,66,'<path d="M4 3h16v19l-8-4-8 4zM7 8h10M7 12h10M7 16h10"/>');
icon(R,110,'<circle cx="12" cy="13" r="9"/><path d="M12 8v6H8M3 5l3-3M21 5l-3-3"/>',26,26);
icon(R,158,'<path d="M12 3l10 7-10 6-10-6zM2 15l10 6 10-6"/>');
icon(R,205,'<path d="M2 4h16v10H7l-5 5zM22 10v13l-5-4H9v-5"/>',24,24);
box(1060,184,16,16,'background:#f23645;border-radius:50%;color:#fff;font-size:10.5px;line-height:16px;text-align:center','1');
icon(R,772,'<circle cx="12" cy="12" r="11"/><circle cx="12" cy="12" r="7"/><circle cx="12" cy="12" r="2.2" fill="#111"/><path d="M12 12l8-8"/>',28,28);
icon(R,816,'<path d="M12 2l7 8-7 6-7-6zM8 14l-6 8h20l-6-8"/>',26,26);
icon(R,860,'<rect x="2" y="4" width="20" height="18" rx="2"/><path d="M2 9h20M7 2v4M17 2v4"/>');
icon(R,912,'<circle cx="3" cy="21" r="1.6"/><path d="M2 13c5 0 9 4 9 9M2 7c8 0 15 7 15 15M8 3c8 2 13 9 14 19"/>',22,22);
box(1047,887,28,17,'background:#f23645;border-radius:9px;color:#fff;font-size:11px;line-height:17px;text-align:center','99+');
icon(R,957,'<path d="M5 18v-7a7 7 0 0 1 14 0v7l2 2H3zM9 21a3 3 0 0 0 6 0"/>');
box(1054,934,22,17,'background:#f23645;border-radius:9px;color:#fff;font-size:11px;line-height:17px;text-align:center','57');
box(1041,981,34,34,'background:#2a2a2a;border-radius:50%');
icon(R,998,'<rect x="3" y="3" width="5" height="5"/><rect x="10" y="3" width="5" height="5"/><rect x="17" y="3" width="5" height="5"/><rect x="3" y="10" width="5" height="5"/><rect x="10" y="10" width="5" height="5"/><rect x="17" y="10" width="5" height="5"/><rect x="3" y="17" width="5" height="5"/><rect x="10" y="17" width="5" height="5"/><rect x="17" y="17" width="5" height="5"/>',20,20,{fill:'#fff',stroke:'none'});
box(1042,1027,32,1,'background:'+DIV);
icon(R,1056,'<circle cx="12" cy="12" r="11"/>',28,28);txt(R,1056,'?',17,'#111');
</script></body></html>
